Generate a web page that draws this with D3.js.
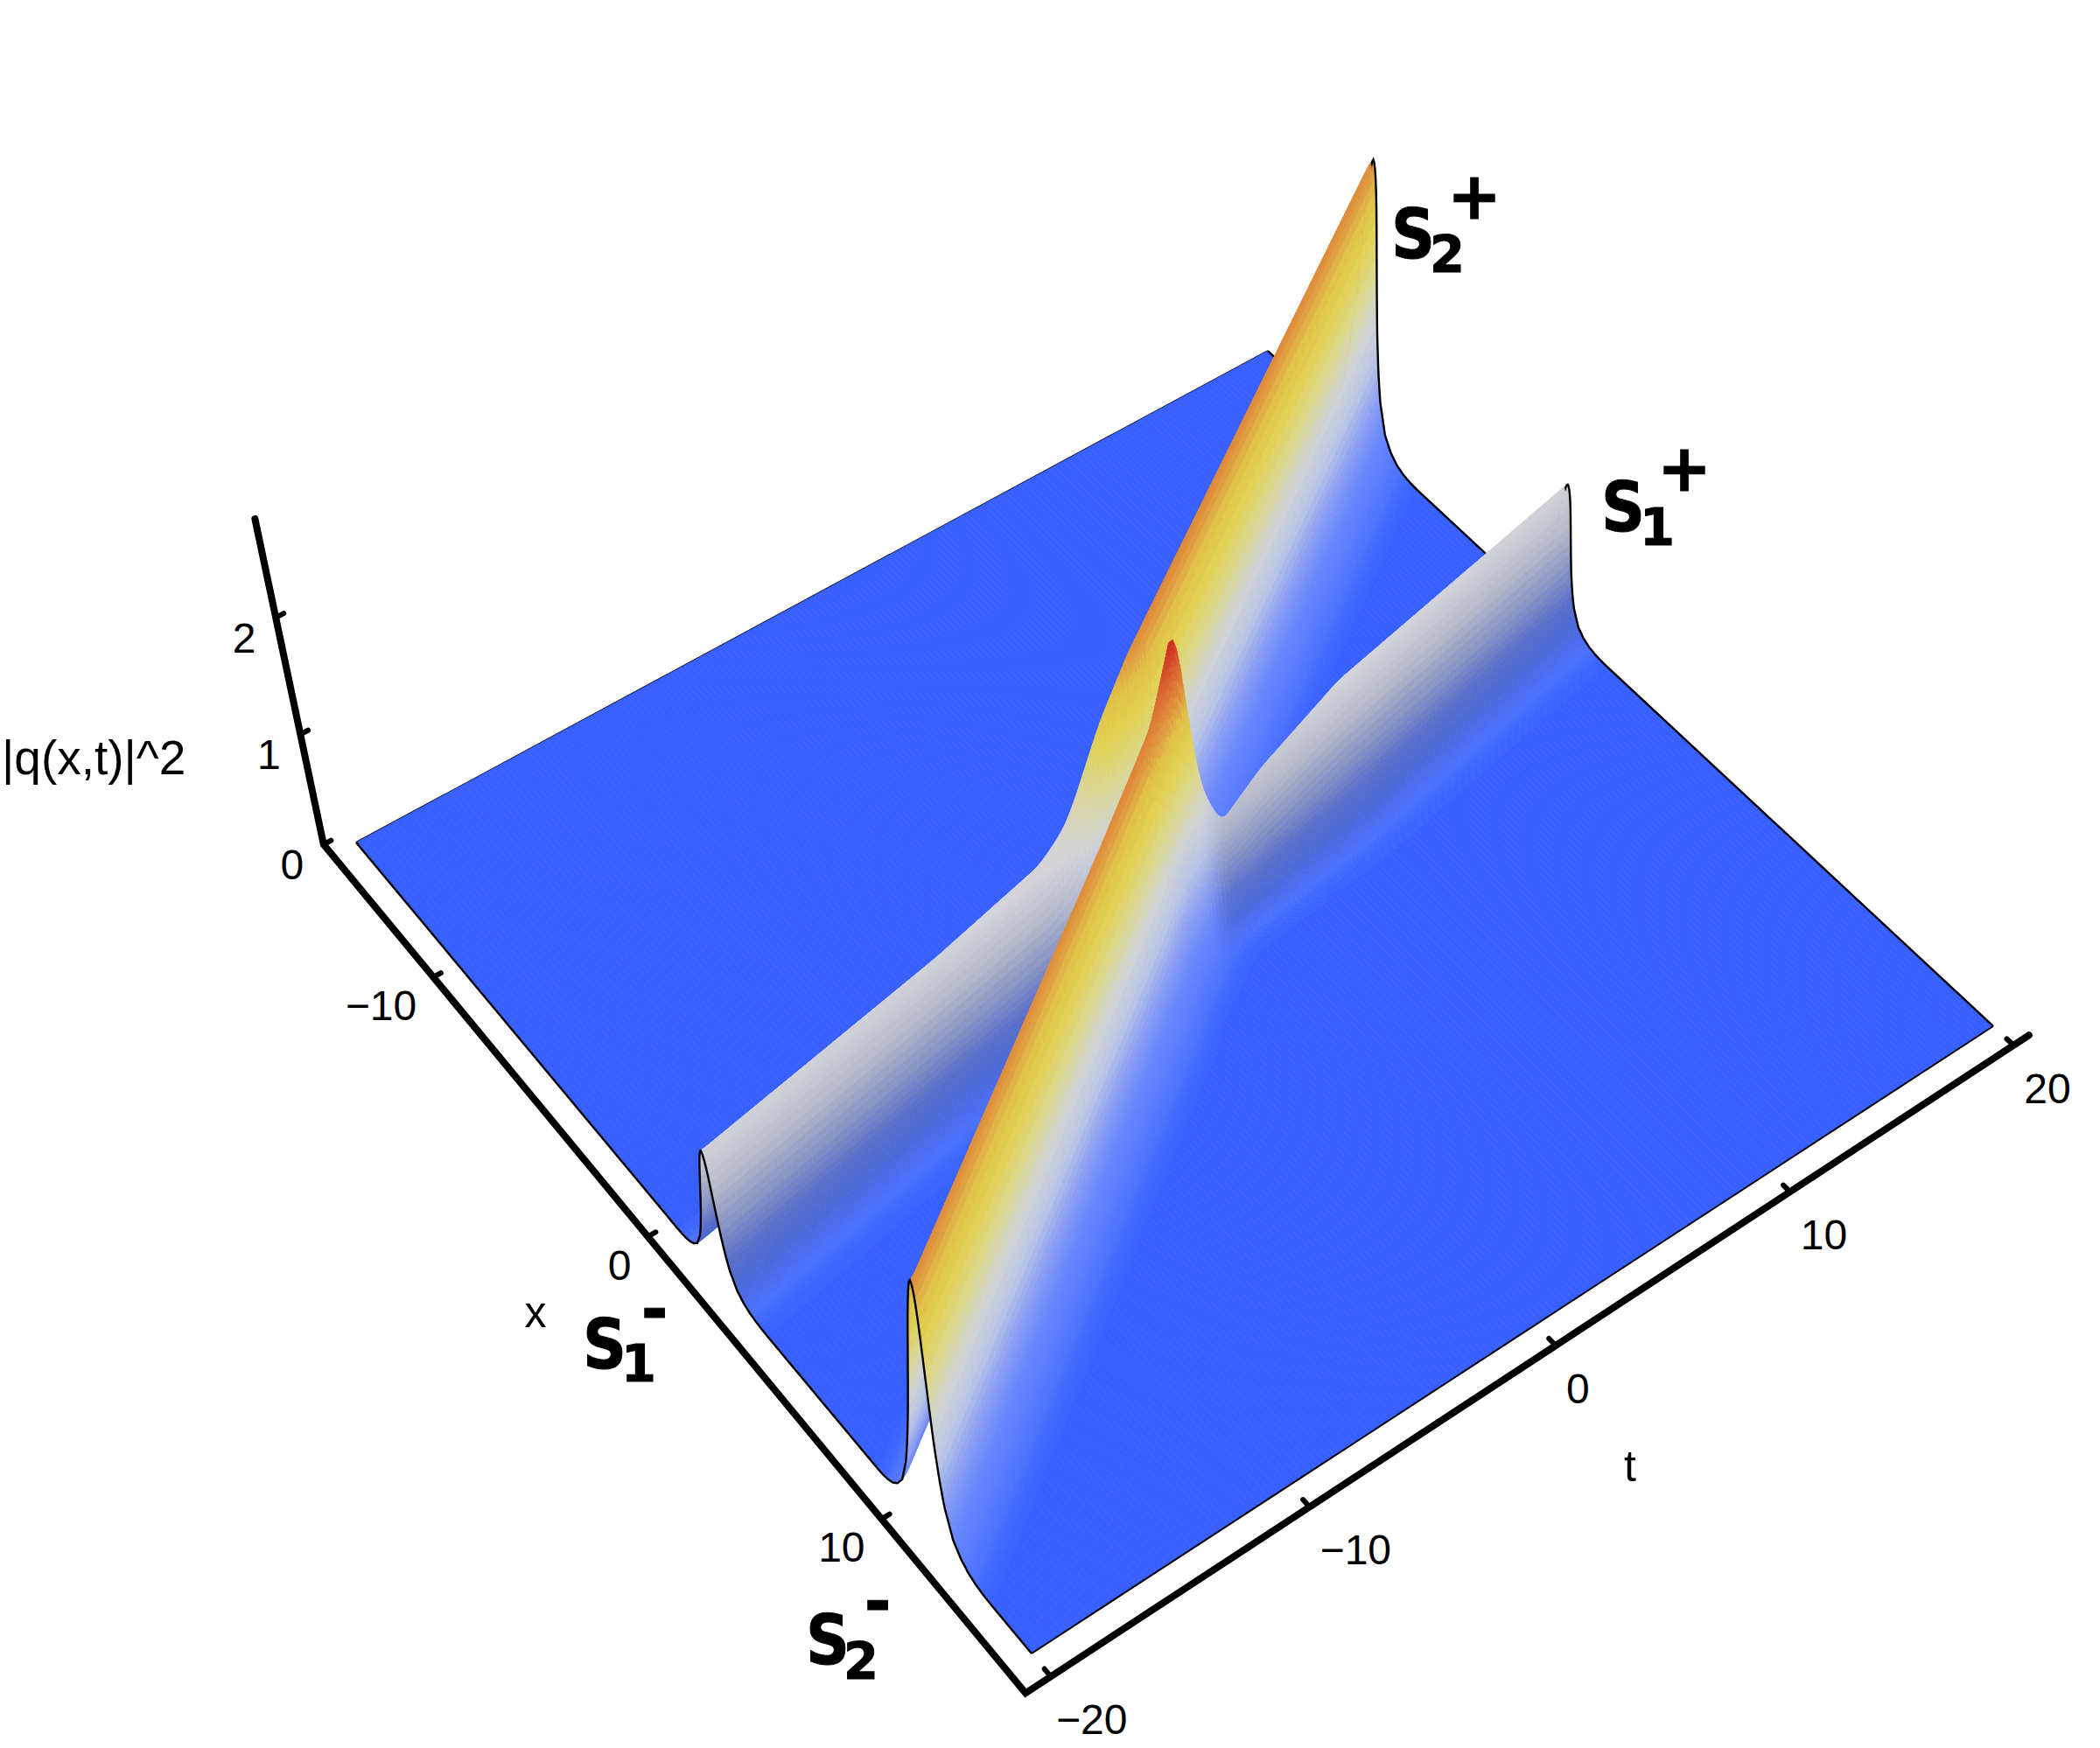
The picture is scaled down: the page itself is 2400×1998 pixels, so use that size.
<!DOCTYPE html>
<html>
<head>
<meta charset="utf-8">
<script src="https://cdn.jsdelivr.net/npm/d3@7"></script>
<style>
body { margin: 0; background: #fff; }
text { font-family: "Liberation Sans", Arial, sans-serif; fill: #000; }
.mark { font-family: "DejaVu Sans", Verdana, sans-serif; font-weight: bold; stroke: #000; stroke-width: 1; }
</style>
</head>
<body>
<svg id="view" width="2400" height="1998"></svg>
<script>
// ticks
var xTicks = [-10, 0, 10];
var tTicks = [-20, -10, 0, 10, 20];
var zTicks = [0, 1, 2];

// back ridge: s1 coming in, leaves as s2
var backT     = [-20,  -9.7, -5,    -4,    -3.5,  -2,   -0.5, 0.9,  20];
var backX     = [1.92, 0.54, -0.05, -0.17, -0.25, -0.6, -1.0, -1.6, -10.95];
var backH     = [1.17, 1.17, 1.25,  1.38,  1.5,   2.0,  2.3,  2.36, 2.33];
var backK     = [2.0,  2.0,  2.0,   2.0,   1.95,  1.85, 1.75, 1.7,  1.7];
var backWarm  = [0,    0,    0,     0.2,   0.5,   1,    1,    1,    1];

// front ridge: s2 coming in, leaves as s1
var frontT    = [-20,  -6,   -2,   -0.3, 0.3,  1,    2,    4,    7.9,   20];
var frontX    = [10.8, 3.5,  1.45, 0.57, 0.5,  0.46, 0.42, 0.1,  -0.52, -2.37];
var frontH    = [2.33, 2.33, 2.4,  2.78, 2.05, 1.3,  0.85, 1.03, 1.2,   1.17];
var frontK    = [1.7,  1.7,  1.7,  1.8,  1.9,  2.2,  2.8,  2.6,  2.2,   2.0];
var frontWarm = [1,    1,    1,    1,    1,    1,    0.1,  0,    0,     0];

// cross section of a ridge, read from the t=-20 edge
var sectionS = [0, 0.1, 0.2, 0.3, 0.4, 0.5, 0.6, 0.8, 1, 1.25, 1.5, 2, 2.5, 3, 3.5, 4, 4.5];
var sectionH = [1, 0.99, 0.961, 0.915, 0.856, 0.786, 0.71, 0.559, 0.42, 0.29, 0.195, 0.09, 0.045, 0.02, 0.008, 0.002, 0];
var backSide = 1.35; // the section is steeper on the far side of a crest

// colour against height
var warmZ = [0, 0.01, 0.03, 0.1, 0.25, 0.5, 0.8, 1.15, 1.5, 1.85, 2.1, 2.2, 2.33, 2.55, 2.75];
var warmC = ["#3860ff", "#4068ff", "#4c72ff", "#5a7cff", "#6a88fc", "#8ca0f2", "#b8c4e6", "#d0d4d4", "#dcd88c", "#e2d04e", "#e0c048", "#e0a844", "#e08c3c", "#d86030", "#cc2a20"];
var coldZ = [0, 0.02, 0.05, 0.12, 0.3, 0.55, 0.85, 1.2];
var coldC = ["#3860ff", "#4870ff", "#4a6cf0", "#4a68d8", "#5a70c8", "#8894c4", "#b4b8c8", "#d4d4da"];

var svg = d3.select("#view");

var xScale = d3.scaleLinear().domain([-15, 15]).range([0, 1]);
var tScale = d3.scaleLinear().domain([-20, 20]).range([0, 1]);

// camera, fitted by hand on the floor corners and the z axis
var cam = { a: 631, b: 1172, c: 407, d: 701, e: -526, f: 963, g: -0.11956, h: 0.08974, r: -0.0285, vx: 1274, vy: 5256 };

function project(x, t, z) {
    var u = xScale(x), v = tScale(t);
    var w = 1 + cam.g * u + cam.h * v + cam.r * z;
    return [
        (cam.a * u + cam.b * v + cam.c + cam.r * cam.vx * z) / w,
        (cam.d * u + cam.e * v + cam.f + cam.r * cam.vy * z) / w
    ];
}

var section = d3.scaleLinear().domain(sectionS).range(sectionH).clamp(true);

// table lookup, averaged a little so the stations leave no kink
function table(dom, rng) {
    var s = d3.scaleLinear().domain(dom).range(rng).clamp(true);
    return function(t) {
        return (s(t - 0.3) + s(t - 0.15) + s(t) + s(t + 0.15) + s(t + 0.3)) / 5;
    };
}

var back = { x: table(backT, backX), h: table(backT, backH), k: table(backT, backK), warm: table(backT, backWarm) };
var front = { x: table(frontT, frontX), h: table(frontT, frontH), k: table(frontT, frontK), warm: table(frontT, frontWarm) };

var warmRamp = d3.scaleLinear().domain(warmZ).range(warmC).interpolate(d3.interpolateRgb).clamp(true);
var coldRamp = d3.scaleLinear().domain(coldZ).range(coldC).interpolate(d3.interpolateRgb).clamp(true);

function ridgeZ(b, x, t) {
    var d = x - b.x(t);
    return b.h(t) * section(Math.abs(d) * b.k(t) * (d < 0 ? backSide : 1));
}

function sample(x, t) {
    var za = ridgeZ(back, x, t), zb = ridgeZ(front, x, t);
    return { x: x, t: t, za: za, zb: zb, z: za + zb, wa: back.warm(t), wb: front.warm(t) };
}

function colorOf(p) {
    var z = p.z;
    var w = z > 0 ? (p.za * p.wa + p.zb * p.wb) / z : 1;
    return d3.interpolateRgb(coldRamp(z), warmRamp(z))(w);
}

// rows of points that follow both crests
var steps = d3.range(-4.48, 4.481, 0.08);
var rowTimes = d3.range(20, -20.001, -0.2);
var rows = rowTimes.map(function(t) {
    var xs = [-15, 15];
    [back, front].forEach(function(b) {
        steps.forEach(function(s) {
            var off = s < 0 ? s / (b.k(t) * backSide) : s / b.k(t);
            xs.push(Math.max(-15, Math.min(15, b.x(t) + off)));
        });
    });
    xs.sort(d3.ascending);
    return xs.map(function(x) { return sample(x, t); });
});

function cellsOf(i) {
    var r0 = rows[i], r1 = rows[i + 1], out = [];
    for (var j = 0; j < r0.length - 1; j++) {
        var q = [r0[j], r0[j + 1], r1[j + 1], r1[j]];
        var mid = {
            z: d3.mean(q, function(p) { return p.z; }),
            za: d3.mean(q, function(p) { return p.za; }),
            zb: d3.mean(q, function(p) { return p.zb; }),
            wa: q[0].wa, wb: q[0].wb
        };
        out.push({ q: q, color: colorOf(mid) });
    }
    return out;
}

var toPoint = function(p) { return project(p.x, p.t, p.z); };
var polyLine = d3.line();

function drawCells(g, cells) {
    g.selectAll("path").data(cells).join("path")
        .attr("d", function(d) { return polyLine(d.q.map(toPoint)) + "Z"; })
        .attr("fill", function(d) { return d.color; })
        .attr("stroke", function(d) { return d.color; })
        .attr("stroke-width", 0.7);
}

// far edge first, the surface covers it where it must
svg.append("path")
    .attr("d", polyLine([project(-15, -20, 0), project(-15, 20, 0)]))
    .attr("fill", "none").attr("stroke", "#000").attr("stroke-width", 2);

drawCells(svg.append("g"), cellsOf(0));
svg.append("path")
    .attr("d", polyLine(rows[0].map(toPoint)))
    .attr("fill", "none").attr("stroke", "#000").attr("stroke-width", 2.4);

var rest = [];
for (var i = 1; i < rows.length - 1; i++) rest = rest.concat(cellsOf(i));
drawCells(svg.append("g"), rest);

// near edges
svg.append("path")
    .attr("d", polyLine(rows[rows.length - 1].map(toPoint)))
    .attr("fill", "none").attr("stroke", "#000").attr("stroke-width", 2.4);
svg.append("path")
    .attr("d", polyLine([project(15, -20, 0), project(15, 20, 0)]))
    .attr("fill", "none").attr("stroke", "#000").attr("stroke-width", 2);

// axes
var axX = -15.45, axT = -20.95, axX2 = 15.75, axT2 = 20.7, axZ = 2.8;
var axes = svg.append("g");
axes.append("path")
    .attr("d", polyLine([project(axX, axT, axZ), project(axX, axT, 0), project(axX2, axT, 0), project(axX2, axT2, 0)]))
    .attr("fill", "none").attr("stroke", "#000").attr("stroke-width", 8)
    .attr("stroke-linecap", "round").attr("stroke-linejoin", "miter");

function stub(a, b) {
    axes.append("path").attr("d", polyLine([a, b]))
        .attr("stroke", "#000").attr("stroke-width", 6).attr("stroke-linecap", "round");
}
function label(p, dx, dy, txt, anchor) {
    svg.append("text").attr("x", p[0] + dx).attr("y", p[1] + dy)
        .attr("text-anchor", anchor).attr("font-size", 48).text(txt);
}
function fmt(v) { return v < 0 ? "\u2212" + (-v) : String(v); }

xTicks.forEach(function(v) {
    var p = project(v, axT, 0);
    stub(p, project(v, axT + 0.3, 0));
    label(p, -19, 49, fmt(v), "end");
});
tTicks.forEach(function(v) {
    var p = project(axX2, v, 0);
    stub(p, project(axX2 - 0.25, v, 0));
    label(p, v == -20 ? 6 : 12, 66, fmt(v), "start");
});
zTicks.forEach(function(v) {
    var p = project(axX, axT, v);
    stub(p, project(axX, axT + 0.3, v));
    label(p, -36, 40, String(v), "middle");
});

svg.append("text").attr("x", 612).attr("y", 1517).attr("text-anchor", "middle").attr("font-size", 50).text("x");
svg.append("text").attr("x", 1863).attr("y", 1693).attr("text-anchor", "middle").attr("font-size", 50).text("t");
svg.append("text").attr("x", 2).attr("y", 885).attr("font-size", 55).text("|q(x,t)|^2");

// soliton marks
var marks = [
    { base: "S", sub: "2", sup: "+", x: 1590, y: 295, sx: 1634, sy: 311, px: 1685, py: 250 },
    { base: "S", sub: "1", sup: "+", x: 1830, y: 607, sx: 1874, sy: 623, px: 1925, py: 561 },
    { base: "S", sub: "1", sup: "-", x: 666, y: 1564, sx: 710, sy: 1579, px: 748, py: 1522 },
    { base: "S", sub: "2", sup: "-", x: 921, y: 1902, sx: 964, sy: 1919, px: 1003, py: 1856 }
];
marks.forEach(function(m) {
    svg.append("text").attr("class", "mark").attr("x", m.x).attr("y", m.y).attr("font-size", 78)
        .attr("textLength", 50).attr("lengthAdjust", "spacingAndGlyphs").text(m.base);
    svg.append("text").attr("class", "mark").attr("x", m.sx).attr("y", m.sy).attr("font-size", 58)
        .attr("textLength", 40).attr("lengthAdjust", "spacingAndGlyphs").text(m.sub);
    svg.append("text").attr("class", "mark").attr("x", m.px).attr("y", m.py).attr("text-anchor", "middle")
        .attr("font-size", 74).text(m.sup);
});
</script>
</body>
</html>
